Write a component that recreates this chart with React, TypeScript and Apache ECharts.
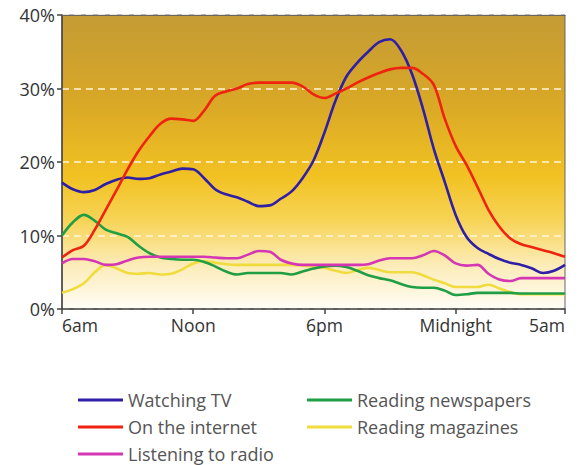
import React, { useEffect, useRef } from "react";
import * as echarts from "echarts";

const times = [
  "6:00", "6:30", "7:00", "7:30", "8:00", "8:30", "9:00", "9:30", "10:00", "10:30",
  "11:00", "11:30", "12:00", "12:30", "13:00", "13:30", "14:00", "14:30", "15:00", "15:30",
  "16:00", "16:30", "17:00", "17:30", "18:00", "18:30", "19:00", "19:30", "20:00", "20:30",
  "21:00", "21:30", "22:00", "22:30", "23:00", "23:30", "0:00", "0:30", "1:00", "1:30",
  "2:00", "2:30", "3:00", "3:30", "4:00", "4:30", "5:00",
];

const tickLabels: Record<string, string> = {
  "6:00": "6am",
  "12:00": "Noon",
  "18:00": "6pm",
  "0:00": "Midnight",
  "5:00": "5am",
};

const watchingTV = [
  17.2, 16.3, 15.9, 16.2, 17.0, 17.6, 17.9, 17.7, 17.8, 18.3,
  18.7, 19.1, 19.0, 17.8, 16.3, 15.6, 15.2, 14.6, 14.0, 14.1,
  15.0, 16.0, 17.8, 20.2, 24.0, 28.3, 31.6, 33.5, 35.0, 36.3,
  36.7, 35.2, 32.0, 27.3, 21.8, 17.3, 12.8, 9.8, 8.3, 7.5,
  6.8, 6.3, 6.0, 5.5, 4.9, 5.2, 6.0,
];

const onInternet = [
  7.0, 8.0, 8.6, 10.8, 13.5, 16.2, 19.0, 21.5, 23.5, 25.2,
  25.9, 25.8, 25.6, 27.0, 29.0, 29.6, 30.0, 30.6, 30.8, 30.8,
  30.8, 30.8, 30.3, 29.2, 28.7, 29.3, 30.0, 30.8, 31.5, 32.1,
  32.6, 32.8, 32.8, 32.0, 30.5, 25.9, 22.2, 19.6, 16.6, 13.5,
  11.2, 9.6, 8.8, 8.4, 8.0, 7.6, 7.1,
];

const listeningRadio = [
  6.2, 6.8, 6.8, 6.5, 6.0, 6.1, 6.6, 7.0, 7.1, 7.1,
  7.1, 7.1, 7.1, 7.1, 7.0, 6.9, 6.9, 7.4, 7.9, 7.8,
  6.7, 6.2, 6.0, 6.0, 6.0, 6.0, 6.0, 6.0, 6.1, 6.6,
  6.9, 6.9, 6.9, 7.3, 7.9, 7.3, 6.2, 5.9, 6.0, 4.8,
  4.0, 3.8, 4.2, 4.2, 4.2, 4.2, 4.2,
];

const readingNewspapers = [
  10.0, 11.8, 12.8, 12.0, 10.8, 10.3, 9.8, 8.6, 7.6, 7.0,
  6.8, 6.7, 6.7, 6.4, 5.8, 5.1, 4.7, 4.9, 4.9, 4.9,
  4.9, 4.7, 5.1, 5.5, 5.8, 5.9, 5.7, 5.2, 4.6, 4.2,
  3.9, 3.4, 3.0, 2.9, 2.9, 2.5, 1.9, 2.0, 2.2, 2.2,
  2.2, 2.2, 2.1, 2.1, 2.1, 2.1, 2.1,
];

const readingMagazines = [
  2.2, 2.7, 3.5, 5.0, 6.0, 5.5, 4.9, 4.8, 4.9, 4.7,
  4.8, 5.4, 6.2, 6.5, 6.3, 6.1, 6.0, 6.0, 6.0, 6.0,
  6.0, 6.0, 5.9, 5.8, 5.6, 5.2, 4.9, 5.3, 5.6, 5.3,
  5.0, 5.0, 5.0, 4.6, 4.0, 3.5, 3.0, 3.0, 3.0, 3.3,
  2.8, 2.3, 2.0, 2.0, 2.0, 2.0, 2.0,
];

const seriesNames = [
  "Watching TV",
  "On the internet",
  "Listening to radio",
  "Reading newspapers",
  "Reading magazines",
];
const seriesColors = ["#2f1fa6", "#ee2410", "#d436b4", "#1f9e45", "#f0dc3c"];
const seriesData = [watchingTV, onInternet, listeningRadio, readingNewspapers, readingMagazines];
const drawOrder = [4, 3, 2, 0, 1];

const FONT = "Open Sans";

export default function App() {
  const ref = useRef<HTMLDivElement>(null);

  useEffect(() => {
    if (!ref.current) return;
    const chart = echarts.init(ref.current, undefined, { renderer: "svg" });
    const showIdx = (idx: number) => tickLabels[times[idx]] !== undefined;

    const legendBase = {
      top: 390,
      orient: "vertical" as const,
      padding: 0,
      icon: "rect",
      itemWidth: 45,
      itemHeight: 3,
      itemGap: 7,
      textStyle: { fontFamily: FONT, fontSize: 18, color: "#555", lineHeight: 20 },
    };

    const option: echarts.EChartsOption = {
      animation: false,
      backgroundColor: "#ffffff",
      grid: {
        left: 62,
        right: 16,
        top: 15,
        bottom: 156,
        show: true,
        borderColor: "#666",
        borderWidth: 1,
        backgroundColor: new echarts.graphic.LinearGradient(0, 0, 0, 1, [
          { offset: 0, color: "#c49b35" },
          { offset: 0.3, color: "#d9a826" },
          { offset: 0.55, color: "#f2c223" },
          { offset: 0.7, color: "#f7d457" },
          { offset: 0.85, color: "#fcecb8" },
          { offset: 1, color: "#fffdf6" },
        ]) as any,
      },
      legend: [
        { ...legendBase, left: 78, height: 80, data: seriesNames.slice(0, 3) },
        { ...legendBase, left: 307, height: 80, data: seriesNames.slice(3) },
      ],
      xAxis: [
        {
          type: "category",
          data: times,
          boundaryGap: false,
          axisLine: { show: true, lineStyle: { color: "#444", width: 1.5 } },
          axisTick: { show: true, interval: showIdx, length: 5, lineStyle: { color: "#444", width: 1.5 } },
          axisLabel: {
            interval: showIdx,
            formatter: (v: string) => tickLabels[v] ?? "",
            fontFamily: FONT,
            fontSize: 17.5,
            color: "#333",
            margin: 7,
            alignMinLabel: "left",
            alignMaxLabel: "right",
          } as any,
          splitLine: { show: false },
        },
        {
          type: "category",
          data: times,
          position: "top",
          boundaryGap: false,
          axisLine: { show: true, lineStyle: { color: "#666", width: 1.2 } },
          axisTick: { show: false },
          axisLabel: { show: false },
          splitLine: { show: false },
        },
      ],
      yAxis: {
        type: "value",
        min: 0,
        max: 40,
        interval: 10,
        axisLine: { show: true, lineStyle: { color: "#444", width: 1.5 } },
        axisTick: { show: true, length: 5, lineStyle: { color: "#444", width: 1.5 } },
        axisLabel: {
          formatter: "{value}%",
          fontFamily: FONT,
          fontSize: 18,
          color: "#333",
          margin: 7,
        },
        splitLine: {
          show: true,
          lineStyle: { color: "#fff6dc", width: 1.5, type: [7, 5] },
        },
      },
      series: drawOrder.map((i) => ({
        name: seriesNames[i],
        type: "line",
        xAxisIndex: 0,
        data: seriesData[i],
        smooth: 0.35,
        symbol: "none",
        color: seriesColors[i],
        lineStyle: { width: 2.6, color: seriesColors[i] },
      })),
    };

    chart.setOption(option);
    return () => chart.dispose();
  }, []);

  return (
    <div
      ref={ref}
      style={{ position: "fixed", left: 0, top: 0, width: 581, height: 465 }}
    />
  );
}
